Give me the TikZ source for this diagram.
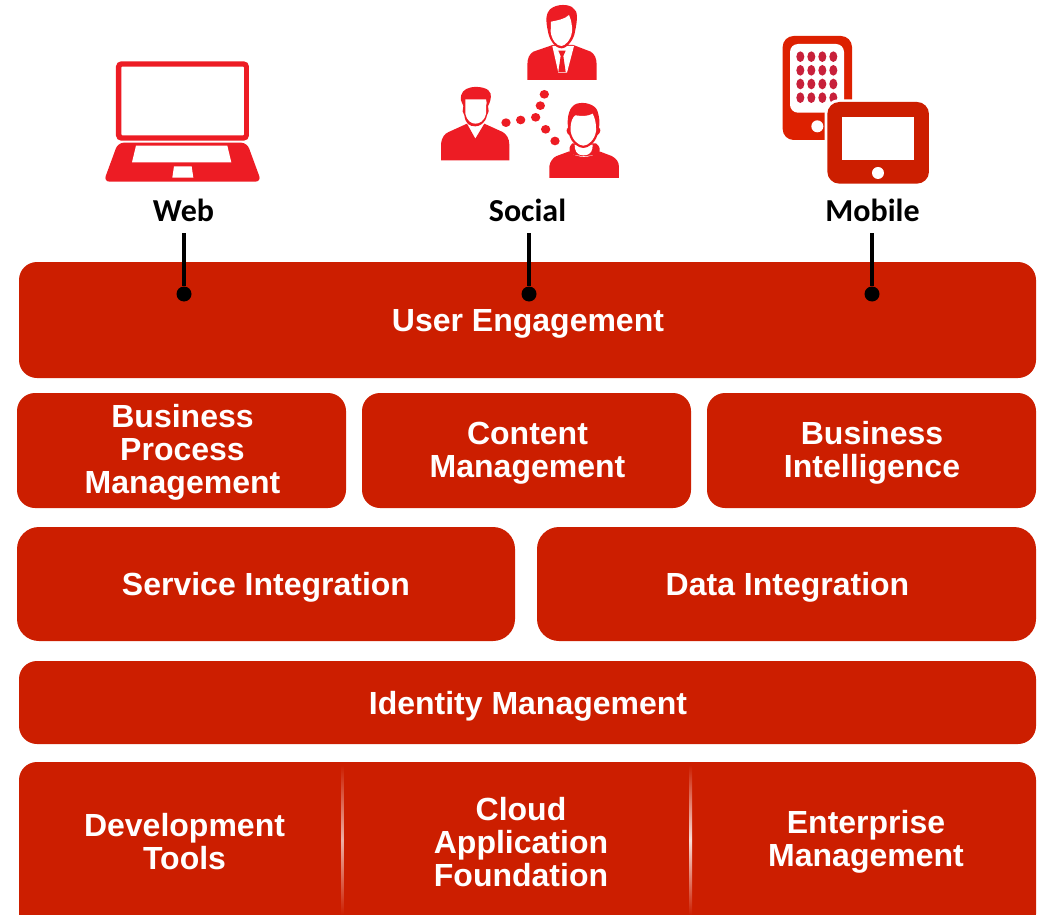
\documentclass[tikz,border=0pt]{standalone}
\usepackage{fontspec}
\setmainfont{Liberation Sans}
\newfontfamily\labelfont{Carlito}
\definecolor{boxred}{HTML}{CC1E00}
\definecolor{iconred}{HTML}{ED1C24}
\definecolor{phonered}{HTML}{DD2000}
\definecolor{gridred}{HTML}{C8203A}
\tikzset{
  box/.style={fill=boxred,draw=none,inner sep=0pt,rounded corners=18pt},
  boxtext/.style={text=white,inner sep=0pt,align=center,font=\fontsize{32}{33}\selectfont\bfseries},
  chanlabel/.style={text=black,inner sep=0pt,minimum height=46pt,font=\labelfont\fontsize{32}{32}\selectfont\bfseries},
  pin/.style={circle,fill=black,inner sep=0pt,minimum size=15pt},
  pinline/.style={draw=black,line width=4pt},
  iconpart/.style={fill=iconred,draw=none},
  blank/.style={fill=white,draw=none},
}
\begin{document}
\begin{tikzpicture}[x=1pt,y=-1pt]
\useasboundingbox (0,0) rectangle (1044,915);
\clip (0,0) rectangle (1044,915);
% boxes
\node[box,minimum width=1017pt,minimum height=116pt] (ue) at (527.5,320) {};
\node[box,minimum width=329pt,minimum height=115pt] (bpm) at (181.5,450.5) {};
\node[box,minimum width=329pt,minimum height=115pt] (cm) at (526.5,450.5) {};
\node[box,minimum width=329pt,minimum height=115pt] (bi) at (871.5,450.5) {};
\node[box,rounded corners=22pt,minimum width=498pt,minimum height=114pt] (si) at (266,584) {};
\node[box,rounded corners=22pt,minimum width=499pt,minimum height=114pt] (di) at (786.5,584) {};
\node[box,minimum width=1017pt,minimum height=83pt] (im) at (527.5,702.5) {};
\node[box,minimum width=1017pt,minimum height=170pt] (base) at (527.5,847) {};
% box texts
\node[boxtext] (uet) at (528,324) {User Engagement};
\node[boxtext] (bpmt) at (182.5,452.5) {Business\\Process\\Management};
\node[boxtext] (cmt) at (527.5,453) {Content\\Management};
\node[boxtext] (bit) at (872,453) {Business\\Intelligence};
\node[boxtext] (sit) at (266,587) {Service Integration};
\node[boxtext] (dit) at (787.5,587) {Data Integration};
\node[boxtext] (imt) at (528,706.5) {Identity Management};
% dividers
\shade[top color=boxred,bottom color=boxred,middle color=boxred!35!white] (341,765) rectangle (343.5,915);
\shade[top color=boxred,bottom color=boxred,middle color=boxred!15!white] (689.5,765) rectangle (692,915);
\node[boxtext] (dev) at (184.5,842) {Development\\Tools};
\node[boxtext] (caf) at (521,842) {Cloud\\Application\\Foundation};
\node[boxtext] (em) at (866,842) {Enterprise\\Management};
% channel labels and pins
\node[chanlabel] (web) at (183.5,210) {Web};
\node[chanlabel] (social) at (527.5,210) {Social};
\node[chanlabel] (mobile) at (872.5,210) {Mobile};
\node[pin] (webpin) at (184,294) {};
\node[pin] (socialpin) at (529,294) {};
\node[pin] (mobilepin) at (872,294) {};
\draw[pinline] (web.south -| webpin) -- (webpin);
\draw[pinline] (social.south -| socialpin) -- (socialpin);
\draw[pinline] (mobile.south -| mobilepin) -- (mobilepin);
% laptop
\begin{scope}[shift={(90,50)},x=0.3333pt,y=-0.3333pt]
  \fill[iconpart,rounded corners=5pt] (78,34) rectangle (477,272);
  \fill[blank,rounded corners=1pt] (94,50) rectangle (462,256);
  \fill[iconpart,rounded corners=6pt] (84,278) -- (471,278) -- (514,395) -- (41,395) -- cycle;
  \fill[blank] (138,287) -- (412,287) -- (424,337) -- (126,337) -- cycle;
  \fill[blank] (252,349) -- (305,349) -- (310,383) -- (247,383) -- cycle;
\end{scope}
% top person
\begin{scope}[shift={(520,0)},x=0.3333pt,y=-0.3333pt]
  \fill[iconpart] (22,240) -- (22,195) .. controls (22,175) and (28,162) .. (40,155) -- (98,135) -- (160,135) -- (212,155) .. controls (224,162) and (230,175) .. (230,195) -- (230,240) -- cycle;
  \fill[blank] (97,138) -- (162,138) -- (141,218) -- (115,218) -- cycle;
  \fill[iconpart] (115,152) -- (137,152) -- (130,168) -- (137,216) -- (115,216) -- (122,168) -- cycle;
  \fill[iconpart] (84,95) .. controls (76,60) and (78,40) .. (90,28) .. controls (110,10) and (150,12) .. (160,25) .. controls (175,32) and (172,62) .. (165,95) .. controls (162,120) and (140,145) .. (125,145) .. controls (105,145) and (88,120) .. cycle;
  \fill[blank] (93,65) .. controls (108,62) and (135,58) .. (147,45) .. controls (152,58) and (156,68) .. (156,80) -- (156,95) .. controls (153,120) and (135,138) .. (124,138) .. controls (110,138) and (95,120) .. (92,95) -- cycle;
\end{scope}
% right person
\begin{scope}[shift={(540,98)},x=0.3333pt,y=-0.3333pt]
  \fill[iconpart] (28,240) -- (28,205) .. controls (30,190) and (40,178) .. (50,174) -- (88,160) .. controls (105,182) and (158,182) .. (178,160) -- (215,174) .. controls (230,182) and (237,192) .. (237,208) -- (237,240) -- cycle;
  \fill[iconpart] (92,167) .. controls (85,155) and (88,145) .. (97,136) -- (168,136) .. controls (180,145) and (182,155) .. (175,167) .. controls (155,176) and (110,176) .. cycle;
  \fill[blank] (104,140) -- (158,140) .. controls (158,155) and (155,172) .. (130,172) .. controls (108,172) and (104,155) .. cycle;
  \fill[iconpart] (84,90) .. controls (80,55) and (88,25) .. (110,17) .. controls (135,10) and (165,20) .. (172,38) .. controls (178,55) and (180,75) .. (177,90) .. controls (183,90) and (183,105) .. (172,112) .. controls (165,135) and (145,150) .. (130,150) .. controls (115,150) and (95,135) .. (88,112) .. controls (78,105) and (78,90) .. cycle;
  \fill[blank] (92,85) .. controls (93,70) and (98,58) .. (106,52) .. controls (125,55) and (145,55) .. (158,47) .. controls (165,60) and (168,75) .. (168,90) -- (168,100) .. controls (164,125) and (145,143) .. (130,143) .. controls (115,143) and (96,125) .. (92,100) -- cycle;
\end{scope}
% left person
\begin{scope}[shift={(436,82)},x=0.3333pt,y=-0.3333pt]
  \fill[iconpart] (15,235) -- (15,185) .. controls (17,168) and (25,155) .. (38,150) -- (93,125) -- (118,170) -- (145,125) -- (200,150) .. controls (212,157) and (220,170) .. (220,188) -- (220,235) -- cycle;
  \fill[iconpart] (75,55) .. controls (72,32) and (85,20) .. (105,16) .. controls (130,12) and (160,18) .. (164,35) .. controls (166,50) and (162,62) .. (156,72) -- (158,88) -- (153,100) .. controls (148,125) and (130,133) .. (118,133) .. controls (100,133) and (88,125) .. (85,100) -- (80,88) -- (82,72) -- cycle;
  \fill[blank] (88,52) -- (150,52) -- (152,62) -- (150,72) -- (150,95) .. controls (145,118) and (130,125) .. (118,125) .. controls (105,125) and (92,115) .. (88,95) -- (88,72) -- cycle;
\end{scope}
% link dots
\begin{scope}[shift={(430,0)},x=0.3333pt,y=-0.3333pt]
  \foreach \px/\py in {228/368,272/360,317/352,331/317,343/283,347/388,375/423}
    \fill[iconpart] (\px,\py) ellipse [x radius=14,y radius=13];
\end{scope}
% mobile
\begin{scope}[shift={(770,25)},x=0.3333pt,y=-0.3333pt]
  \fill[fill=phonered,rounded corners=11pt] (38,33) rectangle (246,345);
  \fill[blank,rounded corners=8pt] (60,57) rectangle (222,263);
  \foreach \gx in {91,124,157,190}
    \foreach \gy in {95,136,177,218}
      \fill[gridred] (\gx,\gy) ellipse [x radius=12,y radius=16];
  \fill[blank] (142,304) circle [radius=18];
  \fill[blank,rounded corners=14pt] (164,223) rectangle (485,484);
  \fill[fill=boxred,rounded corners=12pt] (172,231) rectangle (477,476);
  \fill[blank] (216,276) rectangle (432,405);
  \fill[blank] (324,444) circle [radius=18];
\end{scope}
\end{tikzpicture}
\end{document}
